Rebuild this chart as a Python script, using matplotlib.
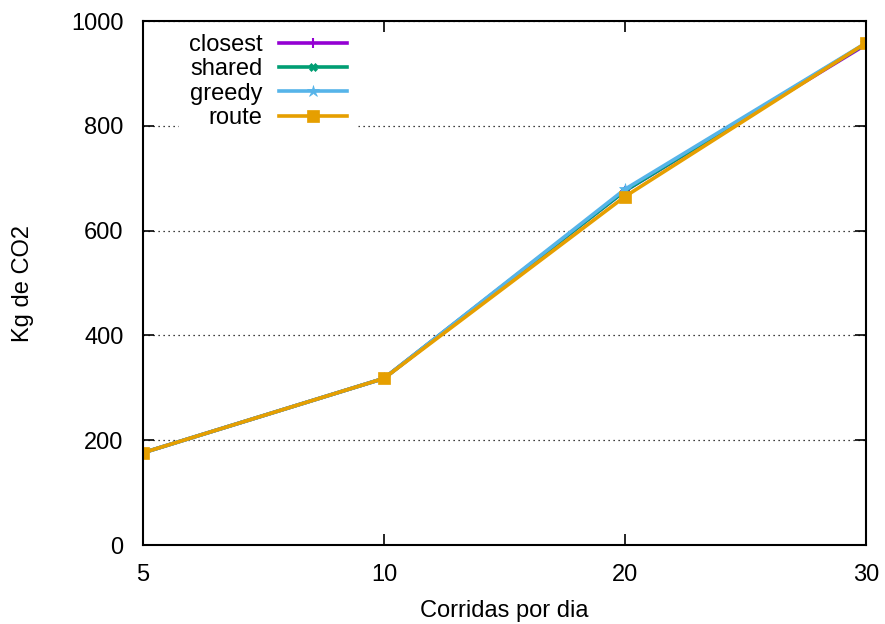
import matplotlib
matplotlib.use("Agg")
import matplotlib.pyplot as plt

plt.rcParams['font.family'] = ['Liberation Sans', 'DejaVu Sans']

categories = ["5", "10", "20", "30"]
closest = [176, 318, 676, 955]
shared = [176, 318, 676, 957]
greedy = [176, 318, 679, 958]
route = [176, 318, 665, 958]

series = [
    ("closest", closest, "#9400d3", "+", 7),
    ("shared", shared, "#009e73", "X", 6),
    ("greedy", greedy, "#56b4e9", "*", 9),
    ("route", route, "#e69f00", "s", 8),
]

FS = 17

fig = plt.figure(figsize=(8.85, 6.24), dpi=100)
ax = fig.add_axes([143 / 885, 79 / 624, 723 / 885, 524 / 624])

xs = list(range(len(categories)))
for name, vals, color, marker, ms in series:
    ax.plot(xs, vals, color=color, lw=2.6, marker=marker, markersize=ms,
            markeredgewidth=1.5 if marker == "+" else 0.5, label=name)

ax.set_xlim(0, len(categories) - 1)
ax.set_ylim(0, 1000)
ax.set_xticks(xs)
ax.set_xticklabels(categories)
ax.set_yticks([0, 200, 400, 600, 800, 1000])

ax.yaxis.grid(True, linestyle=(0, (1, 3)), color="black", lw=0.9)
ax.set_axisbelow(True)

ax.tick_params(direction="in", length=8, width=1.2, labelsize=FS,
               top=True, right=True)
ax.tick_params(axis="y", pad=14)
ax.tick_params(axis="x", pad=14)
for sp in ax.spines.values():
    sp.set_linewidth(1.5)

ax.set_xlabel("Corridas por dia", fontsize=FS, labelpad=10)
ax.set_ylabel("Kg de CO2", fontsize=FS, labelpad=27)

leg = ax.legend(loc="upper left", bbox_to_anchor=(0.045, 1.0), markerfirst=False,
                frameon=True, fontsize=FS, handlelength=2.9, labelspacing=0.1,
                borderaxespad=0.15, handletextpad=0.7, fancybox=False,
                edgecolor="white", framealpha=1.0)
for t in leg.get_texts():
    t.set_ha("right")
leg._legend_box.align = "right"

fig.savefig("out.png", dpi=100)
